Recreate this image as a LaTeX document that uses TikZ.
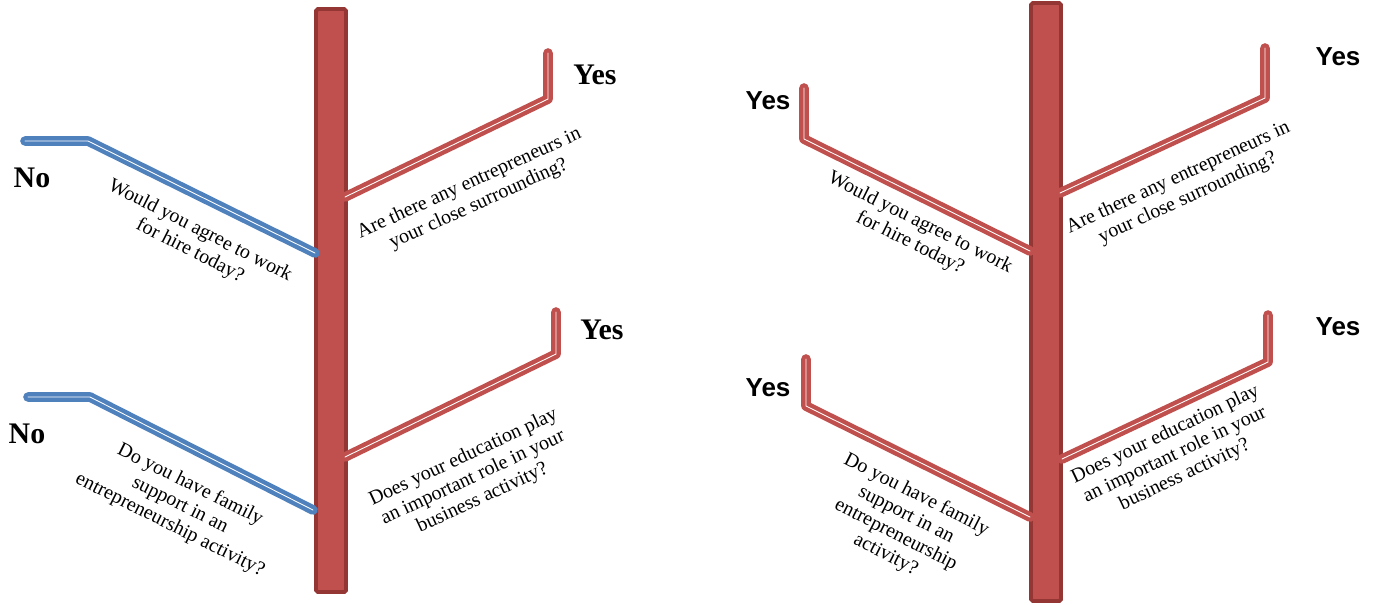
\documentclass[tikz,border=0pt]{standalone}
\usepackage{fontspec}
\setmainfont{Liberation Serif}
\newfontfamily\yessans{Liberation Sans}
\usetikzlibrary{positioning}
\definecolor{TrunkRed}{HTML}{C0504D}
\definecolor{TrunkDark}{HTML}{943634}
\definecolor{NoBlue}{HTML}{4F81BD}

\tikzset{
  trunk/.style={fill=TrunkRed, draw=TrunkDark, line width=2.2pt, rounded corners=1pt},
  branch/.style={line width=2.5pt, double=white, double distance=0.5pt, line cap=round, line join=round},
  yesbranch/.style={branch, draw=TrunkRed},
  nobranch/.style={branch, draw=NoBlue},
  question/.style={align=center, inner sep=0pt, font=\fontsize{11.4}{12.8}\selectfont},
  answer/.style={inner sep=0pt, font=\fontsize{17}{20}\selectfont\bfseries},
  answersans/.style={inner sep=0pt, font=\fontsize{14.8}{18}\selectfont\yessans\bfseries}
}

\begin{document}
\begin{tikzpicture}
    \useasboundingbox (0,0) rectangle (27.52,-12.08);

    % Left tree: trunk
    \draw[trunk] (6.32,-0.18) rectangle (6.92,-11.84);

    % Left tree: "No" branches
    \coordinate (lnoAtip) at (0.5,-2.82);
    \coordinate (lnoAbend) at (1.76,-2.82);
    \coordinate (lnoAroot) at (6.3,-5.06);
    \draw[nobranch] (lnoAtip) -- (lnoAbend) -- (lnoAroot);
    \node[answer] (lnoA) at (0.64,-3.56) {No};
    \node[question, rotate=-27] (lqA) at (3.9,-4.82) {Would you agree to work\\for hire today?};

    \coordinate (lnoBtip) at (0.56,-7.94);
    \coordinate (lnoBbend) at (1.8,-7.94);
    \coordinate (lnoBroot) at (6.26,-10.2);
    \draw[nobranch] (lnoBtip) -- (lnoBbend) -- (lnoBroot);
    \node[answer] (lnoB) at (0.54,-8.68) {No};
    \node[question, rotate=-26.5] (lqB) at (3.6,-10.1) {Do you have family\\support in an\\entrepreneurship activity?};

    % Left tree: "Yes" branches
    \coordinate (lyesAroot) at (6.9,-3.94);
    \coordinate (lyesAbend) at (10.96,-1.98);
    \coordinate (lyesAtip) at (10.96,-1.06);
    \draw[yesbranch] (lyesAroot) -- (lyesAbend) -- (lyesAtip);
    \node[answer] (lyesA) at (11.9,-1.5) {Yes};
    \node[question, rotate=24.5] (lqC) at (9.48,-3.88) {Are there any entrepreneurs in\\your close surrounding?};

    \coordinate (lyesBroot) at (6.9,-9.14);
    \coordinate (lyesBbend) at (11.12,-7.08);
    \coordinate (lyesBtip) at (11.12,-6.24);
    \draw[yesbranch] (lyesBroot) -- (lyesBbend) -- (lyesBtip);
    \node[answer] (lyesB) at (12.04,-6.6) {Yes};
    \node[question, rotate=25] (lqD) at (9.46,-9.56) {Does your education play\\an important role in your\\business activity?};

    % Right tree: trunk
    \draw[trunk] (20.62,-0.06) rectangle (21.22,-12.02);

    % Right tree: left branches
    \coordinate (ryesAtip) at (16.08,-1.76);
    \coordinate (ryesAbend) at (16.08,-2.78);
    \coordinate (ryesAroot) at (20.6,-5.02);
    \draw[yesbranch] (ryesAtip) -- (ryesAbend) -- (ryesAroot);
    \node[answersans] (ryesA) at (15.36,-2.02) {Yes};
    \node[question, rotate=-26.5] (rqA) at (18.3,-4.66) {Would you agree to work\\for hire today?};

    \coordinate (ryesBtip) at (16.12,-7.18);
    \coordinate (ryesBbend) at (16.12,-8.12);
    \coordinate (ryesBroot) at (20.6,-10.34);
    \draw[yesbranch] (ryesBtip) -- (ryesBbend) -- (ryesBroot);
    \node[answersans] (ryesB) at (15.36,-7.76) {Yes};
    \node[question, rotate=-27] (rqB) at (18.02,-10.5) {Do you have family\\support in an\\entrepreneurship\\activity?};

    % Right tree: right branches
    \coordinate (ryesCroot) at (21.2,-3.86);
    \coordinate (ryesCbend) at (25.3,-1.96);
    \coordinate (ryesCtip) at (25.3,-0.96);
    \draw[yesbranch] (ryesCroot) -- (ryesCbend) -- (ryesCtip);
    \node[answersans] (ryesC) at (26.76,-1.14) {Yes};
    \node[question, rotate=24.7] (rqC) at (23.66,-3.76) {Are there any entrepreneurs in\\your close surrounding?};

    \coordinate (ryesDroot) at (21.24,-9.18);
    \coordinate (ryesDbend) at (25.36,-7.24);
    \coordinate (ryesDtip) at (25.36,-6.3);
    \draw[yesbranch] (ryesDroot) -- (ryesDbend) -- (ryesDtip);
    \node[answersans] (ryesD) at (26.76,-6.54) {Yes};
    \node[question, rotate=25.5] (rqD) at (23.5,-9.1) {Does your education play\\an important role in your\\business activity?};
\end{tikzpicture}
\end{document}
